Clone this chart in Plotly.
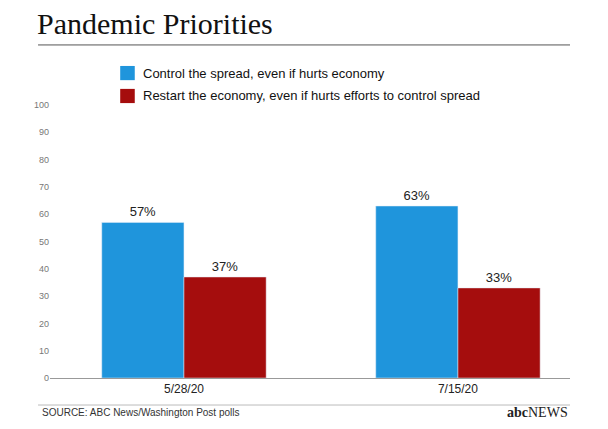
import plotly.graph_objects as go

# { data
dates = ['5/28/20', '7/15/20']
control = [57, 63]
restart = [37, 33]
series_names = ['Control the spread, even if hurts economy',
                'Restart the economy, even if hurts efforts to control spread']
colors = ['#1f95dc', '#a50d0d']
yticks = list(range(0, 101, 10))
# }

xpos = [0, 1]
fig = go.Figure()
fig.add_trace(go.Bar(x=xpos, y=control, width=0.3, offset=-0.3,
                     marker_color=colors[0], name=series_names[0],
                     text=[f'{v}%' for v in control], textposition='outside',
                     textfont=dict(size=13, color='#222', family='Liberation Sans')))
fig.add_trace(go.Bar(x=xpos, y=restart, width=0.3, offset=0,
                     marker_color=colors[1], name=series_names[1],
                     text=[f'{v}%' for v in restart], textposition='outside',
                     textfont=dict(size=13, color='#222', family='Liberation Sans')))

shapes = [
    dict(type='line', xref='paper', yref='paper', x0=-0.023, x1=1.0,
         y0=1.22, y1=1.22, line=dict(color='#555', width=1)),
    dict(type='line', xref='paper', yref='paper', x0=-0.023, x1=1.0,
         y0=-0.099, y1=-0.099, line=dict(color='#bbb', width=1)),
]
annotations = [
    dict(text='Pandemic Priorities', xref='paper', yref='paper', x=-0.028, y=1.365,
         xanchor='left', yanchor='top', showarrow=False,
         font=dict(size=30, color='#111', family='Liberation Serif')),
    dict(text='SOURCE: ABC News/Washington Post polls', xref='paper', yref='paper',
         x=-0.02, y=-0.128, xanchor='left', yanchor='middle', showarrow=False,
         font=dict(size=10, color='#333', family='Liberation Sans')),
    dict(text='<b>abc</b>NEWS', xref='paper', yref='paper', x=1.0, y=-0.128,
         xanchor='right', yanchor='middle', showarrow=False,
         font=dict(size=14, color='#222', family='Liberation Serif')),
]
# manual legend
for i, (nm, c) in enumerate(zip(series_names, colors)):
    yc = 1.117 - i * 0.084
    shapes.append(dict(type='rect', xref='paper', yref='paper', x0=0.135, x1=0.163,
                       y0=yc - 0.026, y1=yc + 0.026, fillcolor=c, line_width=0))
    annotations.append(dict(text=nm, xref='paper', yref='paper', x=0.175, y=yc,
                            xanchor='left', yanchor='middle', showarrow=False,
                            font=dict(size=13, color='#111', family='Liberation Sans')))

fig.update_layout(
    width=592, height=413,
    margin=dict(l=42, r=30, t=97, b=43),
    paper_bgcolor='white', plot_bgcolor='white',
    showlegend=False,
    xaxis=dict(range=[-0.489, 1.409], tickvals=xpos, ticktext=dates,
               showgrid=False, zeroline=False, showline=True,
               linecolor='#999', linewidth=1,
               tickfont=dict(size=12, color='#222', family='Liberation Sans')),
    yaxis=dict(range=[0, 100], tickvals=yticks, showgrid=False, zeroline=False,
               showline=False, tickfont=dict(size=9, color='#777', family='Liberation Sans')),
    shapes=shapes,
    annotations=annotations,
)

fig.write_html("out.html")
